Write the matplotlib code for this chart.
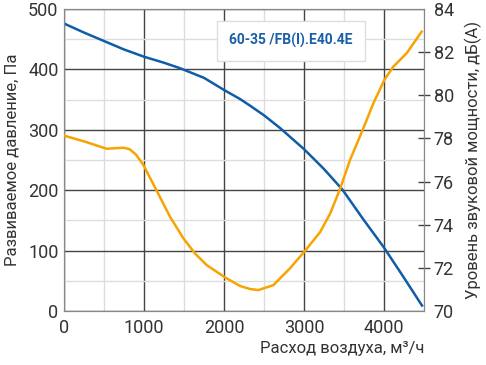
import matplotlib.pyplot as plt
from matplotlib.ticker import MultipleLocator

# data
flow_p = [0, 250, 500, 750, 1000, 1250, 1450, 1750, 2000, 2200, 2325, 2500, 2700,
          3000, 3250, 3480, 3740, 4000, 4240, 4475]
pressure = [476, 461, 447, 433, 421, 411, 402, 386, 366, 351, 340, 324, 303,
            268, 235, 201, 152, 105, 57, 9]

flow_db = [0, 262, 533, 660, 742, 820, 900, 992, 1158, 1325, 1492, 1637, 1783, 2012, 2200,
           2325, 2429, 2617, 2825, 3004, 3200, 3325, 3450, 3575, 3742, 3867, 4004,
           4117, 4283, 4471]
noise = [78.13, 77.85, 77.52, 77.55, 77.57, 77.5, 77.25, 76.77, 75.58, 74.37, 73.37, 72.67, 72.13,
         71.56, 71.16, 71.02, 70.97, 71.2, 71.98, 72.75, 73.65, 74.5, 75.65, 77.0, 78.47,
         79.63, 80.71, 81.33, 81.95, 82.95]

x_ticks = [0, 1000, 2000, 3000, 4000]
p_ticks = [0, 100, 200, 300, 400, 500]
db_ticks = [70, 72, 74, 76, 78, 80, 82, 84]
model = "60-35 /FB(I).E40.4E"

plt.rcParams['font.family'] = ['Roboto', 'DejaVu Sans']
txt = '#333333'

fig = plt.figure(figsize=(4.86, 3.65), dpi=100)
ax = fig.add_axes([64 / 486, 54 / 365, 360 / 486, 302 / 365])
ax2 = ax.twinx()

ax.set_xlim(0, 4500)
ax.set_ylim(0, 500)
ax2.set_ylim(70, 84)

ax.xaxis.set_minor_locator(MultipleLocator(500))
ax.yaxis.set_minor_locator(MultipleLocator(50))
ax.grid(which='minor', color='#dddddd', linewidth=1)
ax.grid(which='major', color='#444444', linewidth=1)
ax.set_axisbelow(True)

ax.set_xticks(x_ticks)
ax.set_yticks(p_ticks)
ax.tick_params(which='both', length=0, labelsize=13, colors=txt, pad=4)
ax.tick_params(axis='x', pad=6)

for s in ax.spines.values():
    s.set_color('#888888')
for s in ax2.spines.values():
    s.set_color('#888888')

ax.plot(flow_p, pressure, color='#0f5ca8', linewidth=1.8, zorder=3)
ax2.plot(flow_db, noise, color='#f7a400', linewidth=1.8, zorder=3)

ax2.set_yticks(db_ticks)
ax2.tick_params(direction='inout', length=8, width=1, color='#444444',
                labelcolor=txt, labelsize=13, pad=3)
ticks2 = ax2.yaxis.get_major_ticks()
for i in (0, len(ticks2) - 1):
    ticks2[i].tick2line.set_visible(False)

ax.set_ylabel("Развиваемое давление, Па", fontsize=12, color=txt, labelpad=6)
ax2.set_ylabel("Уровень звуковой мощности, дБ(A)", fontsize=12, color=txt, labelpad=8)
ax.set_xlabel("Расход воздуха, м³/ч", fontsize=12, color=txt, labelpad=4)
ax.xaxis.set_label_coords(1.0, -0.1)
ax.xaxis.label.set_horizontalalignment('right')

ax.text(0.63, 0.895, model, transform=ax.transAxes, ha='center', va='center',
        fontsize=10, fontweight='bold', color='#1a5fa8', zorder=5,
        bbox=dict(boxstyle='square,pad=0.9', facecolor='white', edgecolor='#dddddd', linewidth=1))

fig.savefig("out.png", dpi=100)
